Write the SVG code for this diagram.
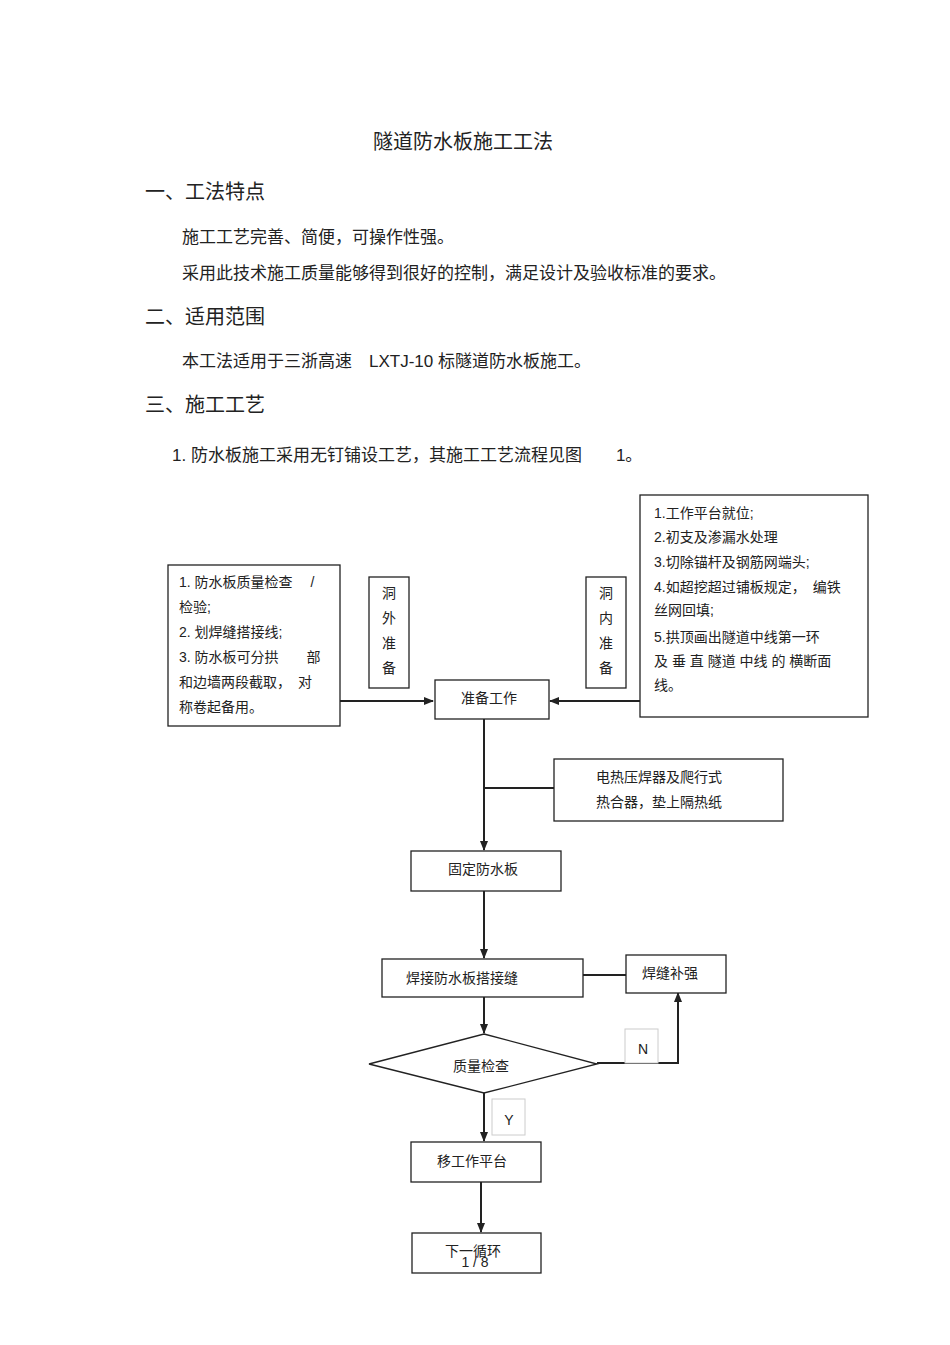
<svg xmlns="http://www.w3.org/2000/svg" width="950" height="1345" viewBox="0 0 950 1345">
<style>
text{font-family:"Liberation Sans","Noto Sans CJK SC",sans-serif;fill:#222}
.h{font-size:20px}.b{font-size:17px}.s{font-size:14px}
.n{fill:#fff;stroke:#222;stroke-width:1.3}
.c{fill:none;stroke:#222;stroke-width:2}
.lb{fill:#fff;stroke:#ccc;stroke-width:1}
</style>
<defs><marker id="a" markerWidth="10" markerHeight="10" refX="9" refY="5" orient="auto" markerUnits="userSpaceOnUse"><path d="M0,1 L10,5 L0,9z" fill="#222"/></marker></defs>
<rect width="950" height="1345" fill="#fff"/>
<text x="463" y="149" class="h" text-anchor="middle">隧道防水板施工工法</text>
<text x="145" y="199" class="h">一、工法特点</text>
<text x="182" y="243" class="b">施工工艺完善、简便，可操作性强。</text>
<text x="182" y="279" class="b">采用此技术施工质量能够得到很好的控制，满足设计及验收标准的要求。</text>
<text x="145" y="324" class="h">二、适用范围</text>
<text x="182" y="367" class="b">本工法适用于三浙高速　LXTJ-10 标隧道防水板施工。</text>
<text x="145" y="412" class="h">三、施工工艺</text>
<text x="172" y="461" class="b">1. 防水板施工采用无钉铺设工艺，其施工工艺流程见图　　1。</text>
<g id="connectors">
<path class="c" d="M340,701 H433" marker-end="url(#a)"/>
<path class="c" d="M640,701 H550" marker-end="url(#a)"/>
<path class="c" d="M484,719 V850" marker-end="url(#a)"/>
<path class="c" d="M554,788 H484"/>
<path class="c" d="M484,891 V958" marker-end="url(#a)"/>
<path class="c" d="M583,975 H626"/>
<path class="c" d="M484,997 V1033" marker-end="url(#a)"/>
<path class="c" d="M597,1063 H678 V993" marker-end="url(#a)"/>
<path class="c" d="M484,1093 V1141" marker-end="url(#a)"/>
<path class="c" d="M481,1182 V1232" marker-end="url(#a)"/>
</g>
<g id="left"><rect class="n" x="168" y="565" width="172" height="161"/>
<text class="s" x="179" y="587">1. 防水板质量检查　 /</text><text class="s" x="179" y="612">检验;</text><text class="s" x="179" y="637">2. 划焊缝搭接线;</text><text class="s" x="179" y="662">3. 防水板可分拱　　部</text><text class="s" x="179" y="687">和边墙两段截取，　对</text><text class="s" x="179" y="712">称卷起备用。</text></g>
<g id="outer"><rect class="n" x="369" y="577" width="40" height="111"/>
<text class="s" x="389" y="598" text-anchor="middle">洞</text><text class="s" x="389" y="623" text-anchor="middle">外</text><text class="s" x="389" y="648" text-anchor="middle">准</text><text class="s" x="389" y="673" text-anchor="middle">备</text></g>
<g id="inner"><rect class="n" x="586" y="577" width="40" height="111"/>
<text class="s" x="606" y="598" text-anchor="middle">洞</text><text class="s" x="606" y="623" text-anchor="middle">内</text><text class="s" x="606" y="648" text-anchor="middle">准</text><text class="s" x="606" y="673" text-anchor="middle">备</text></g>
<g id="right"><rect class="n" x="640" y="495" width="228" height="222"/>
<text class="s" x="654" y="518">1.工作平台就位;</text><text class="s" x="654" y="542">2.初支及渗漏水处理</text><text class="s" x="654" y="567">3.切除锚杆及钢筋网端头;</text><text class="s" x="654" y="592">4.如超挖超过铺板规定，　编铁</text><text class="s" x="654" y="615">丝网回填;</text><text class="s" x="654" y="642">5.拱顶画出隧道中线第一环</text><text class="s" x="654" y="666">及 垂 直 隧道  中线  的  横断面</text><text class="s" x="654" y="690">线。</text></g>
<g id="prep"><rect class="n" x="435" y="680" width="114" height="39"/><text class="s" x="489" y="703" text-anchor="middle">准备工作</text></g>
<g id="heat"><rect class="n" x="554" y="759" width="229" height="62"/><text class="s" x="596" y="782">电热压焊器及爬行式</text><text class="s" x="596" y="807">热合器，垫上隔热纸</text></g>
<g id="fix"><rect class="n" x="411" y="851" width="150" height="40"/><text class="s" x="483" y="874" text-anchor="middle">固定防水板</text></g>
<g id="weld"><rect class="n" x="382" y="959" width="201" height="38"/><text class="s" x="462" y="983" text-anchor="middle">焊接防水板搭接缝</text></g>
<g id="reinforce"><rect class="n" x="626" y="955" width="100" height="38"/><text class="s" x="670" y="978" text-anchor="middle">焊缝补强</text></g>
<g id="check"><path class="n" d="M484,1034 L597,1064 L484,1093 L369,1064Z"/><text class="s" x="481" y="1071" text-anchor="middle">质量检查</text></g>
<rect class="lb" x="625" y="1029" width="33" height="34"/><text class="s" x="643" y="1054" text-anchor="middle">N</text>
<rect class="lb" x="492" y="1099" width="33" height="36"/><text class="s" x="509" y="1125" text-anchor="middle">Y</text>
<g id="move"><rect class="n" x="411" y="1142" width="130" height="40"/><text class="s" x="472" y="1166" text-anchor="middle">移工作平台</text></g>
<g id="next"><rect class="n" x="412" y="1233" width="129" height="40"/><text class="s" x="473" y="1256" text-anchor="middle">下一循环</text></g>
<text class="s" x="475" y="1267" text-anchor="middle">1 / 8</text>
</svg>
